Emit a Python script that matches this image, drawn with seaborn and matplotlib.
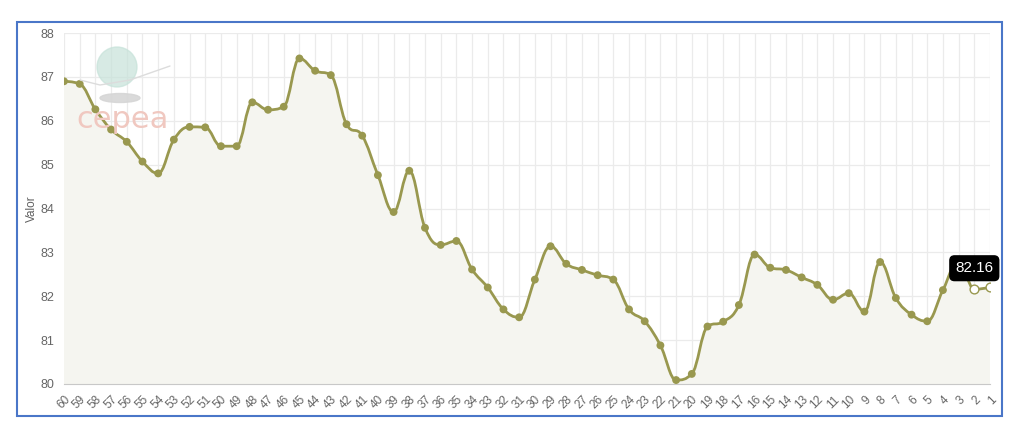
import numpy as np
import pandas as pd
import matplotlib.pyplot as plt
import seaborn as sns
from matplotlib.path import Path
from matplotlib.patches import PathPatch, Rectangle, Ellipse

labels = [str(n) for n in range(60, 0, -1)]
valor = [86.90, 86.84, 86.26, 85.80, 85.52, 85.07, 84.80, 85.57, 85.86, 85.85,
         85.42, 85.42, 86.42, 86.25, 86.32, 87.42, 87.14, 87.04, 85.92, 85.66,
         84.76, 83.92, 84.86, 83.56, 83.17, 83.26, 82.61, 82.20, 81.70, 81.52,
         82.38, 83.14, 82.74, 82.60, 82.48, 82.38, 81.70, 81.43, 80.88, 80.09,
         80.23, 81.31, 81.42, 81.80, 82.95, 82.65, 82.60, 82.43, 82.26, 81.92,
         82.07, 81.65, 82.78, 81.96, 81.58, 81.43, 82.14, 82.81, 82.16, 82.20]
tooltip_idx = 58

df = pd.DataFrame({"pos": np.arange(len(labels)), "semana": labels, "valor": valor})

cor = "#99984f"

def spline_path(xs, ys, base=None):
    # curva tipo spline do highcharts (bezier)
    sm = 1.5
    n = len(xs)
    verts = [(xs[0], ys[0])]
    codes = [Path.MOVETO]
    rc = [None] * n
    lc = [None] * n
    for i in range(n):
        x, y = xs[i], ys[i]
        if 0 < i < n - 1:
            lx = (sm * x + xs[i - 1]) / (sm + 1)
            ly = (sm * y + ys[i - 1]) / (sm + 1)
            rx = (sm * x + xs[i + 1]) / (sm + 1)
            ry = (sm * y + ys[i + 1]) / (sm + 1)
            corr = (ry - ly) * (rx - x) / (rx - lx) + y - ry
            ly += corr
            ry += corr
            if ly > ys[i - 1] and ly > y:
                ly = max(ys[i - 1], y)
                ry = 2 * y - ly
            elif ly < ys[i - 1] and ly < y:
                ly = min(ys[i - 1], y)
                ry = 2 * y - ly
            if ry > ys[i + 1] and ry > y:
                ry = max(ys[i + 1], y)
                ly = 2 * y - ry
            elif ry < ys[i + 1] and ry < y:
                ry = min(ys[i + 1], y)
                ly = 2 * y - ry
            lc[i] = (lx, ly)
            rc[i] = (rx, ry)
        else:
            lc[i] = (x, y)
            rc[i] = (x, y)
    for i in range(1, n):
        verts += [rc[i - 1], lc[i], (xs[i], ys[i])]
        codes += [Path.CURVE4] * 3
    if base is not None:
        verts += [(xs[-1], base), (xs[0], base), (xs[0], ys[0])]
        codes += [Path.LINETO, Path.LINETO, Path.CLOSEPOLY]
    return Path(verts, codes)

sns.set_style("white")
plt.rcParams['font.family'] = ['Liberation Sans', 'DejaVu Sans']

fig = plt.figure(figsize=(10.24, 4.32), dpi=100)
ax = fig.add_axes([64 / 1024, 1 - 384 / 432, 926 / 1024, 351 / 432])

xs = df["pos"].to_numpy(dtype=float)
ys = df["valor"].to_numpy(dtype=float)

ax.add_patch(PathPatch(spline_path(xs, ys, base=80), facecolor="#f5f5f0", edgecolor="none", zorder=1))
ax.add_patch(PathPatch(spline_path(xs, ys), facecolor="none", edgecolor=cor, lw=2, zorder=3))

normal = df.drop(index=[tooltip_idx, len(df) - 1])
sns.scatterplot(data=normal, x="pos", y="valor", color=cor, s=32, edgecolor="none", ax=ax, zorder=4)
hover = df.loc[[tooltip_idx, len(df) - 1]]
sns.scatterplot(data=hover, x="pos", y="valor", color="white", s=40, edgecolor=cor, linewidth=1, ax=ax, zorder=4)

ax.set_xlim(0, len(labels) - 1)
ax.set_ylim(80, 88)
ax.set_xticks(df["pos"])
ax.set_xticklabels(labels, rotation=45, ha="right", rotation_mode="anchor")
ax.set_yticks(range(80, 89))
ax.tick_params(axis="x", colors="#666666", labelsize=8.5, length=4, width=0.8, pad=3)
ax.tick_params(axis="y", colors="#666666", labelsize=9, length=0, pad=7)
ax.tick_params(axis="x", color="#c0c0c0")
ax.grid(True, color="#ebebeb", lw=0.9, zorder=0)
ax.set_axisbelow(True)
for s in ["top", "right", "left"]:
    ax.spines[s].set_visible(False)
ax.spines["bottom"].set_color("#c8c8c8")
ax.set_xlabel("")
ax.set_ylabel("Valor", color="#606060", fontsize=8.5, labelpad=2)

ax.annotate(f"{valor[tooltip_idx]:.2f}", xy=(tooltip_idx, valor[tooltip_idx]),
            xytext=(0, 21), textcoords="offset pixels", ha="center", va="center",
            color="white", fontsize=11, zorder=6, annotation_clip=False,
            bbox=dict(boxstyle="round,pad=0.35,rounding_size=0.3", fc="black", ec="black"))

# logo cepea (marca d'agua)
fig.patches.append(Ellipse((120 / 1024, 1 - 98 / 432), 40 / 1024, 9 / 432,
                           transform=fig.transFigure, color="#d6d6d6", alpha=0.9, zorder=5))
fig.patches.append(Ellipse((117 / 1024, 1 - 67 / 432), 40 / 1024, 40 / 432,
                           transform=fig.transFigure, color="#c6e2d9", alpha=0.7, zorder=5))
fig.lines.append(plt.Line2D([80 / 1024, 100 / 1024, 130 / 1024, 170 / 1024],
                            [1 - 80 / 432, 1 - 85 / 432, 1 - 80 / 432, 1 - 66 / 432],
                            transform=fig.transFigure, color="#dcdcdc", lw=1, zorder=6))
fig.text(123 / 1024, 1 - 120 / 432, "cepea", color="#f0c8c0", fontsize=22,
         ha="center", va="center", family="DejaVu Sans", zorder=5)

fig.patches.append(Rectangle((17 / 1024, 1 - 416 / 432), 985 / 1024, 394 / 432,
                             transform=fig.transFigure, fill=False, ec="#4a76c8", lw=1.5))

fig.savefig("out.png", dpi=100)
